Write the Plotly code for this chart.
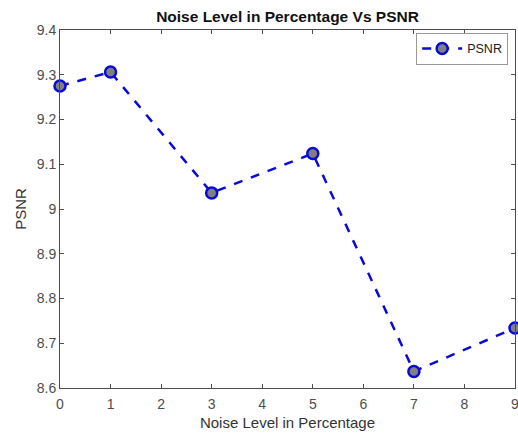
import plotly.graph_objects as go

noise_level = [0, 1, 3, 5, 7, 9]
psnr = [9.275, 9.306, 9.036, 9.124, 8.637, 8.734]
x_ticks = [0, 1, 2, 3, 4, 5, 6, 7, 8, 9]
y_ticks = [8.6, 8.7, 8.8, 8.9, 9.0, 9.1, 9.2, 9.3, 9.4]
y_tick_text = ["8.6", "8.7", "8.8", "8.9", "9", "9.1", "9.2", "9.3", "9.4"]

FONT = "Arial, Liberation Sans"

fig = go.Figure()
fig.add_trace(go.Scatter(
    x=noise_level, y=psnr, mode="lines+markers", name="PSNR",
    line=dict(color="#0a0ad8", width=2.5, dash="dash"),
    marker=dict(size=11, color="#808080", line=dict(color="#0a0ad8", width=2.5)),
    cliponaxis=False,
))

axis_common = dict(
    showline=True, linecolor="#4d4d4d", linewidth=1, mirror="ticks",
    ticks="inside", ticklen=4, tickcolor="#4d4d4d",
    showgrid=False, zeroline=False, ticklabeloverflow="allow",
    automargin=False,
    tickfont=dict(family=FONT, size=14, color="#4d4d4d"),
)

fig.update_layout(
    width=518, height=435,
    margin=dict(l=60, r=3, t=30, b=47, autoexpand=False),
    paper_bgcolor="white", plot_bgcolor="white",
    title=dict(text="<b>Noise Level in Percentage Vs PSNR</b>",
               font=dict(family=FONT, size=15.5, color="#111111"),
               x=0.5, xanchor="center", xref="paper", y=1, yref="paper", yanchor="bottom",
               pad=dict(b=8)),
    xaxis=dict(range=[0, 9], tickvals=x_ticks, ticklabelstandoff=3,
               title=dict(text="Noise Level in Percentage", standoff=6,
                          font=dict(family=FONT, size=15, color="#333333")),
               **axis_common),
    yaxis=dict(range=[8.6, 9.4], tickvals=y_ticks, ticktext=y_tick_text,
               title=dict(text="PSNR", standoff=6,
                          font=dict(family=FONT, size=15, color="#333333")),
               **axis_common),
    showlegend=True,
    legend=dict(x=0.985, y=0.992, xanchor="right", yanchor="top",
                bgcolor="white", bordercolor="#999999", borderwidth=1,
                font=dict(family=FONT, size=12.5, color="#222222"),
                itemwidth=40, tracegroupgap=0),
)

fig.write_html("out.html")
